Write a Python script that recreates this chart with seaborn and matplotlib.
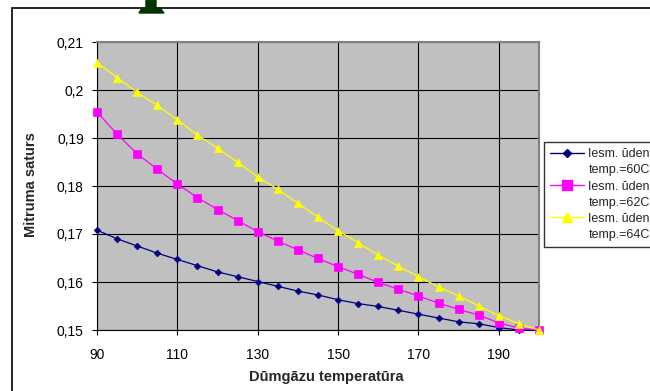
import matplotlib
matplotlib.use("Agg")
import matplotlib.pyplot as plt
import matplotlib.patches as mpatches
import matplotlib.ticker as mticker
import seaborn as sns
import pandas as pd

temps = [90, 95, 100, 105, 110, 115, 120, 125, 130, 135, 140, 145,
         150, 155, 160, 165, 170, 175, 180, 185, 190, 195, 200]
s60 = [0.1708, 0.1690, 0.1675, 0.1660, 0.1647, 0.1634, 0.1621, 0.1611,
       0.1601, 0.1591, 0.1581, 0.1573, 0.1563, 0.1555, 0.1549, 0.1541,
       0.1533, 0.1525, 0.1517, 0.1513, 0.1505, 0.1500, 0.1500]
s62 = [0.1954, 0.1908, 0.1867, 0.1835, 0.1804, 0.1776, 0.1751, 0.1728,
       0.1705, 0.1685, 0.1667, 0.1649, 0.1632, 0.1616, 0.1599, 0.1585,
       0.1571, 0.1556, 0.1543, 0.1531, 0.1515, 0.1504, 0.1500]
s64 = [0.2057, 0.2026, 0.1995, 0.1968, 0.1938, 0.1906, 0.1879, 0.1849,
       0.1819, 0.1793, 0.1764, 0.1735, 0.1707, 0.1682, 0.1656, 0.1633,
       0.1611, 0.1590, 0.1571, 0.1550, 0.1530, 0.1513, 0.1500]
series_names = ["Iesm. ūdens temp.=60C", "Iesm. ūdens temp.=62C", "Iesm. ūdens temp.=64C"]
legend_lines = [("Iesm. ūdens", "temp.=60C"), ("Iesm. ūdens", "temp.=62C"), ("Iesm. ūdens", "temp.=64C")]
x_ticks = [90, 110, 130, 150, 170, 190]
y_ticks = [0.15, 0.16, 0.17, 0.18, 0.19, 0.20, 0.21]
x_label = "Dūmgāzu temperatūra"
y_label = "Mitruma saturs"

rows = []
for name, vals in zip(series_names, [s60, s62, s64]):
    for t, v in zip(temps, vals):
        rows.append({"temp": t, "val": v, "series": name})
df = pd.DataFrame(rows)

sns.set_style("white")
plt.rcParams["font.family"] = ["Liberation Sans", "DejaVu Sans"]

fig = plt.figure(figsize=(6.5, 3.91), dpi=100)
ax = fig.add_axes([97/650, 1-330/391, (539-97)/650, (330-42)/391])
ax.set_facecolor("#C0C0C0")

palette = {series_names[0]: "#000080", series_names[1]: "#FF00FF", series_names[2]: "#FFFF00"}
markers = {series_names[0]: "D", series_names[1]: "s", series_names[2]: "^"}
sizes = {series_names[0]: 3.4, series_names[1]: 5.4, series_names[2]: 5.8}

sns.lineplot(data=df, x="temp", y="val", hue="series", style="series",
             palette=palette, markers=markers, dashes=False, ax=ax,
             linewidth=0.9, markeredgewidth=0.5, legend=False, zorder=3)
for line, name in zip(ax.get_lines(), series_names):
    line.set_markersize(sizes[name])
    line.set_markeredgecolor(palette[name])
    line.set_clip_on(False)

ax.set_xlim(90, 200)
ax.set_ylim(0.15, 0.21)
ax.set_xticks(x_ticks)
ax.set_yticks(y_ticks)
ax.yaxis.set_major_formatter(mticker.FuncFormatter(lambda v, p: f"{v:.2f}".replace(".", ",").replace("0,20", "0,2")))
ax.grid(True, color="black", linewidth=0.8)
ax.set_axisbelow(True)
ax.tick_params(axis="both", direction="out", length=3.5, width=0.8, color="black",
               labelsize=10, left=True, bottom=True, labelcolor="black")
ax.tick_params(axis="x", pad=9.5)
ax.tick_params(axis="y", pad=6)
for side in ["top", "right"]:
    ax.spines[side].set_color("#808080")
    ax.spines[side].set_linewidth(1.5)
for side in ["left", "bottom"]:
    ax.spines[side].set_color("black")
    ax.spines[side].set_linewidth(0.8)

ax.set_xlabel(x_label, fontsize=10.5, fontweight="bold", va="center")
ax.xaxis.set_label_coords((326-97)/442, (330-377)/288)
ax.set_ylabel(y_label, fontsize=10.5, fontweight="bold", va="center")
ax.yaxis.set_label_coords((31-97)/442, (330-185)/288)

handles, labels = [], []
for name, (l1, l2) in zip(series_names, legend_lines):
    handles.append(plt.Line2D([], [], color=palette[name], marker=markers[name],
                              markersize=sizes[name] * 1.3, markeredgecolor=palette[name],
                              linewidth=1))
    labels.append(l1)
    handles.append(plt.Line2D([], [], linestyle="none", marker=None))
    labels.append(l2)
leg = fig.legend(handles, labels, loc="upper left",
                 bbox_to_anchor=(544/650, 1-142/391), frameon=True, fancybox=False,
                 edgecolor="black", fontsize=9, handlelength=2.7, handletextpad=0.35,
                 borderpad=0.5, labelspacing=0.33, borderaxespad=0)
leg.get_frame().set_linewidth(1)

# outer chart border
fig.patches.append(mpatches.Rectangle((12/650, -0.05), 1.0, 1.05 - 8/391,
                                      transform=fig.transFigure, fill=False,
                                      edgecolor="black", linewidth=1.2))
# dark green shape at top
fig.patches.append(mpatches.Polygon([(139/650, 1-13/391), (164/650, 1-13/391),
                                     (160/650, 1-8/391), (156/650, 1-8/391),
                                     (156/650, 1.0), (146/650, 1.0),
                                     (146/650, 1-8/391), (142/650, 1-8/391)],
                                    closed=True, transform=fig.transFigure,
                                    facecolor="#003300", edgecolor="#003300"))

fig.savefig("out.png", dpi=100)
